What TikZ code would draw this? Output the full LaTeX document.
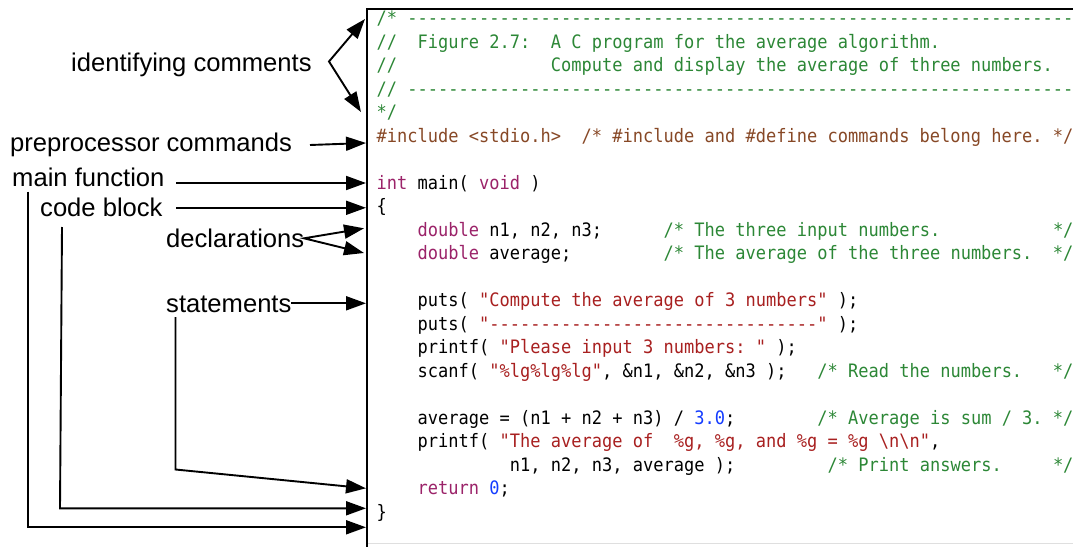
\documentclass[tikz,border=0pt]{standalone}
\usepackage{fontspec}
\setmonofont{DejaVu Sans Mono}[FakeStretch=0.92]
\newfontfamily\labelfont{Liberation Sans}
\usetikzlibrary{arrows.meta}

% syntax colours
\definecolor{cmtgreen}{RGB}{44,135,54}
\definecolor{ppbrown}{RGB}{135,72,38}
\definecolor{kwpurple}{RGB}{155,35,105}
\definecolor{strred}{RGB}{168,32,32}
\definecolor{numblue}{RGB}{20,60,255}

\newcommand\ccmt[1]{\textcolor{cmtgreen}{#1}}
\newcommand\cpp[1]{\textcolor{ppbrown}{#1}}
\newcommand\kw[1]{\textcolor{kwpurple}{#1}}
\newcommand\cstr[1]{\textcolor{strred}{#1}}
\newcommand\cnum[1]{\textcolor{numblue}{#1}}

\tikzset{
  code/.style={anchor=base west, inner sep=0pt, font=\ttfamily\fontsize{18.5}{20}\selectfont},
  lbl/.style={anchor=base west, inner sep=0pt, font=\labelfont\fontsize{25.6}{28}\selectfont},
  arr/.style={line width=1.9pt, line join=miter, -{Triangle[length=20pt,width=14pt]}},
  biarr/.style={line width=1.9pt, line join=miter, {Triangle[length=20pt,width=14pt]}-{Triangle[length=20pt,width=14pt]}},
}

\begin{document}
\begin{tikzpicture}[x=1pt,y=-1pt]
\useasboundingbox (0,0) rectangle (1073,546);
\clip (0,0) rectangle (1073,546);

% listing frame
\draw[gray!25, line width=0.8pt] (368,543.5) -- (1080,543.5);
\draw[line width=2.2pt] (1080,9.3) -- (367,9.3) -- (367,560);

% listing
\node[code] (l0)  at (376.5,24.8)  {\ccmt{/*~-----------------------------------------------------------------}};
\node[code] (l1)  at (376.5,48.3)  {\ccmt{//~~Figure~2.7:~~A~C~program~for~the~average~algorithm.}};
\node[code] (l2)  at (376.5,71.8)  {\ccmt{//~~~~~~~~~~~~~~~Compute~and~display~the~average~of~three~numbers.}};
\node[code] (l3)  at (376.5,95.3)  {\ccmt{//~-----------------------------------------------------------------}};
\node[code] (l4)  at (376.5,118.8) {\ccmt{*/}};
\node[code] (l5)  at (376.5,142.3) {\cpp{\#include~<stdio.h>~~/*~\#include~and~\#define~commands~belong~here.~*/}};
\node[code] (l7)  at (376.5,189.3) {\kw{int}~main(~\kw{void}~)};
\node[code] (l8)  at (376.5,212.8) {\{};
\node[code] (l9)  at (376.5,236.3) {~~~~\kw{double}~n1,~n2,~n3;~~~~~~\ccmt{/*~The~three~input~numbers.~~~~~~~~~~~*/}};
\node[code] (l10) at (376.5,259.8) {~~~~\kw{double}~average;~~~~~~~~~\ccmt{/*~The~average~of~the~three~numbers.~~*/}};
\node[code] (l12) at (376.5,306.8) {~~~~puts(~\cstr{"Compute~the~average~of~3~numbers"}~);};
\node[code] (l13) at (376.5,330.3) {~~~~puts(~\cstr{"--------------------------------"}~);};
\node[code] (l14) at (376.5,353.8) {~~~~printf(~\cstr{"Please~input~3~numbers:~"}~);};
\node[code] (l15) at (376.5,377.3) {~~~~scanf(~\cstr{"\%lg\%lg\%lg"},~\&n1,~\&n2,~\&n3~);~~~\ccmt{/*~Read~the~numbers.~~~*/}};
\node[code] (l17) at (376.5,424.3) {~~~~average~=~(n1~+~n2~+~n3)~/~\cnum{3.0};~~~~~~~~\ccmt{/*~Average~is~sum~/~3.~*/}};
\node[code] (l18) at (376.5,447.8) {~~~~printf(~\cstr{"The~average~of~~\%g,~\%g,~and~\%g~=~\%g~\textbackslash{}n\textbackslash{}n"},};
\node[code] (l19) at (376.5,471.3) {~~~~~~~~~~~~~n1,~n2,~n3,~average~);~~~~~~~~~\ccmt{/*~Print~answers.~~~~~*/}};
\node[code] (l20) at (376.5,494.8) {~~~~\kw{return}~\cnum{0};};
\node[code] (l21) at (376.5,518.3) {\}};

% labels
\node[lbl] (ic) at (71,71)     {identifying comments};
\node[lbl] (pp) at (10,151.5)  {preprocessor commands};
\node[lbl] (mf) at (12,186)    {main function};
\node[lbl] (cb) at (40,216.5)  {code block};
\node[lbl] (dc) at (166,247.5) {declarations};
\node[lbl] (st) at (166,312)   {statements};

% connector ends
\coordinate (icV)  at (329,61.5);
\coordinate (icT1) at (365,19);
\coordinate (icT2) at (361,112);
\coordinate (ppS)  at (310,145);
\coordinate (ppT)  at (366,143);
\coordinate (mfS)  at (176,183);
\coordinate (mfT)  at (366,183);
\coordinate (cbS)  at (176,207.8);
\coordinate (cbT)  at (366,207.8);
\coordinate (dcV)  at (304,238.3);
\coordinate (dcT1) at (364,228.3);
\coordinate (dcT2) at (364,253);
\coordinate (stS)  at (291,303.3);
\coordinate (stT)  at (366,303.3);
\coordinate (stD)  at (175.5,317);
\coordinate (stC)  at (175.5,469.5);
\coordinate (stT2) at (366,488.3);
\coordinate (cbD)  at (62,227);
\coordinate (cbC)  at (60,508.3);
\coordinate (cbT2) at (366,508.3);
\coordinate (mfD)  at (28.3,191.5);
\coordinate (mfC)  at (28.3,527.3);
\coordinate (mfT2) at (366,527.3);

% connectors
\draw[biarr] (icT1) -- (icV) -- (icT2);
\draw[arr] (ppS) -- (ppT);
\draw[arr] (mfS) -- (mfT);
\draw[arr] (cbS) -- (cbT);
\draw[biarr] (dcT1) -- (dcV) -- (dcT2);
\draw[arr] (stS) -- (stT);
\draw[arr] (stD) -- (stC) -- (stT2);
\draw[arr] (cbD) -- (cbC) -- (cbT2);
\draw[arr] (mfD) -- (mfC) -- (mfT2);
\end{tikzpicture}
\end{document}
